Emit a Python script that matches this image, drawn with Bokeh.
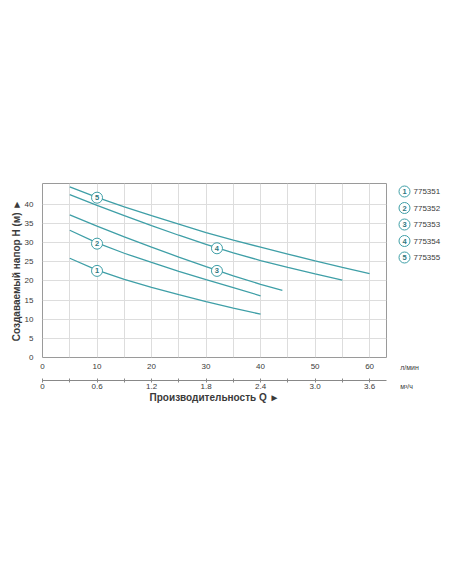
from bokeh.plotting import figure
from bokeh.layouts import row
from bokeh.models import ColumnDataSource, Range1d, LinearAxis, FixedTicker
from bokeh.core.properties import value
from bokeh.embed import file_html
from bokeh.resources import INLINE

# производительность Q (л/мин) и напор H (м), по кривым
q_1 = [5, 10, 15, 20, 25, 30, 35, 40]
h_1 = [25.9, 22.8, 20.4, 18.3, 16.4, 14.6, 12.9, 11.3]
q_2 = [5, 10, 15, 20, 25, 30, 35, 40]
h_2 = [33.2, 29.9, 27.2, 24.8, 22.5, 20.3, 18.2, 16.1]
q_3 = [5, 10, 15, 20, 25, 30, 35, 40, 44]
h_3 = [37.2, 34.3, 31.5, 28.8, 26.2, 23.7, 21.3, 19.1, 17.5]
q_4 = [5, 10, 15, 20, 25, 30, 35, 40, 45, 50, 55]
h_4 = [42.5, 39.7, 37.0, 34.4, 31.9, 29.5, 27.3, 25.3, 23.5, 21.8, 20.2]
q_5 = [5, 10, 15, 20, 25, 30, 35, 40, 45, 50, 55, 60]
h_5 = [44.5, 41.8, 39.3, 37.0, 34.8, 32.6, 30.6, 28.8, 27.0, 25.2, 23.5, 21.9]

models = ["775351", "775352", "775353", "775354", "775355"]
marker_text = ["1", "2", "3", "4", "5"]
marker_q = [10, 10, 32, 32, 10]
marker_h = [22.6, 29.7, 22.6, 28.5, 41.7]

lmin_ticks = [0, 10, 20, 30, 40, 50, 60]
m3h_ticks = [0, 0.6, 1.2, 1.8, 2.4, 3.0, 3.6]
m3h_labels = ["0", "0.6", "1.2", "1.8", "2.4", "3.0", "3.6"]
h_ticks = [0, 5, 10, 15, 20, 25, 30, 35, 40]
units = ["л/мин", "м³/ч"]

FONT = "Liberation Sans"
TEAL = "#3f9fa7"
NUM = "#2f7880"
TXT = "#3a3a3a"

q_max = 63.1
h_max = 45.4
H = 580
TOP, BOTTOM = 183, 223   # рамка графика: y 183..357 px


def style_q_axes(a1, a2):
    # две оси снизу: л/мин (без линии) и м3/ч (с линией и рисками)
    a1.axis_line_color = None
    a1.major_tick_line_color = None
    a1.minor_tick_line_color = None
    a1.major_tick_out = 6
    a1.major_label_standoff = 0
    a1.axis_label = " "
    a1.axis_label_text_font_size = "5px"
    a1.axis_label_standoff = 0
    a2.major_tick_in = 2
    a2.major_tick_out = 2
    a2.minor_tick_in = 2
    a2.minor_tick_out = 2
    a2.major_label_standoff = 1
    for a in (a1, a2):
        a.major_label_text_font = FONT
        a.major_label_text_font_size = "8px"
        a.major_label_text_color = TXT


p = figure(width=392, height=H, output_backend="svg", toolbar_location=None,
           x_range=Range1d(0, q_max), y_range=Range1d(0, h_max),
           min_border_left=42, min_border_right=6, min_border_top=TOP, min_border_bottom=BOTTOM)
p.extra_x_ranges = {"m3h": Range1d(0, q_max * 0.06)}

p.outline_line_color = "#9a9a9a"
p.xgrid.ticker = FixedTicker(ticks=list(range(5, 61, 5)))
p.ygrid.ticker = FixedTicker(ticks=h_ticks[1:])
p.grid.grid_line_color = "#dddddd"

xa = p.xaxis[0]
xa.ticker = FixedTicker(ticks=lmin_ticks)

xa2 = LinearAxis(x_range_name="m3h")
xa2.ticker = FixedTicker(ticks=m3h_ticks, minor_ticks=[0.3, 0.9, 1.5, 2.1, 2.7, 3.3])
xa2.major_label_overrides = dict(zip(m3h_ticks, m3h_labels))
xa2.axis_line_color = "#888888"
xa2.major_tick_line_color = "#888888"
xa2.minor_tick_line_color = "#888888"
xa2.axis_label = "Производительность Q ►"
xa2.axis_label_standoff = 0
xa2.axis_label_text_font = FONT
xa2.axis_label_text_font_size = "10px"
xa2.axis_label_text_font_style = "bold"
xa2.axis_label_text_color = TXT
p.add_layout(xa2, "below")
style_q_axes(xa, xa2)

ya = p.yaxis[0]
ya.ticker = FixedTicker(ticks=h_ticks)
ya.axis_line_color = None
ya.major_tick_line_color = None
ya.minor_tick_line_color = None
ya.major_label_standoff = 3
ya.major_label_text_font = FONT
ya.major_label_text_font_size = "8px"
ya.major_label_text_color = TXT
ya.axis_label = "Создаваемый напор H (м) ►"
ya.axis_label_standoff = 0
ya.axis_label_text_font = FONT
ya.axis_label_text_font_size = "10px"
ya.axis_label_text_font_style = "bold"
ya.axis_label_text_color = TXT

for q, h in [(q_1, h_1), (q_2, h_2), (q_3, h_3), (q_4, h_4), (q_5, h_5)]:
    p.line(q, h, line_color=TEAL, line_width=1.3)

src = ColumnDataSource(dict(q=marker_q, h=marker_h, t=marker_text))
p.scatter("q", "h", source=src, size=11, fill_color="white", line_color=TEAL, line_width=1)
p.text("q", "h", text="t", source=src, text_align="center", text_baseline="middle",
       text_font=value(FONT), text_font_size="7.5px", text_font_style="bold", text_color=NUM)

# правая колонка: легенда (y в пикселях страницы) и подписи единиц как метки осей
leg = figure(width=60, height=H, output_backend="svg", toolbar_location=None,
             x_range=Range1d(0, 60), y_range=Range1d(H - BOTTOM, TOP),
             min_border_left=0, min_border_right=0, min_border_top=TOP, min_border_bottom=BOTTOM)
leg.yaxis.visible = False
leg.grid.visible = False
leg.outline_line_color = None
leg.extra_x_ranges = {"u2": Range1d(0, 60)}

la = leg.xaxis[0]
la.ticker = FixedTicker(ticks=[17])
la.major_label_overrides = {17: units[0]}
la2 = LinearAxis(x_range_name="u2")
la2.ticker = FixedTicker(ticks=[14])
la2.major_label_overrides = {14: units[1]}
leg.add_layout(la2, "below")
style_q_axes(la, la2)
la2.axis_line_color = None
la2.major_tick_line_color = None
la2.minor_tick_line_color = None
la2.major_tick_out = 0
la2.major_label_standoff = 0
la.major_label_text_font_size = "7px"
la2.major_label_text_font_size = "7px"

leg_y = [191 + 16.5 * i for i in range(len(models))]
leg_src = ColumnDataSource(dict(x=[12] * len(models), y=leg_y, t=marker_text, name=models))
leg.scatter("x", "y", source=leg_src, size=11, fill_color="white", line_color=TEAL, line_width=1)
leg.text("x", "y", text="t", source=leg_src, text_align="center", text_baseline="middle",
         text_font=value(FONT), text_font_size="7.5px", text_font_style="bold", text_color=NUM)
leg.text(21, "y", text="name", source=leg_src, text_baseline="middle",
         text_font=value(FONT), text_font_size="8px", text_color=TXT)

open("out.html", "w").write(file_html(row(p, leg), INLINE))
